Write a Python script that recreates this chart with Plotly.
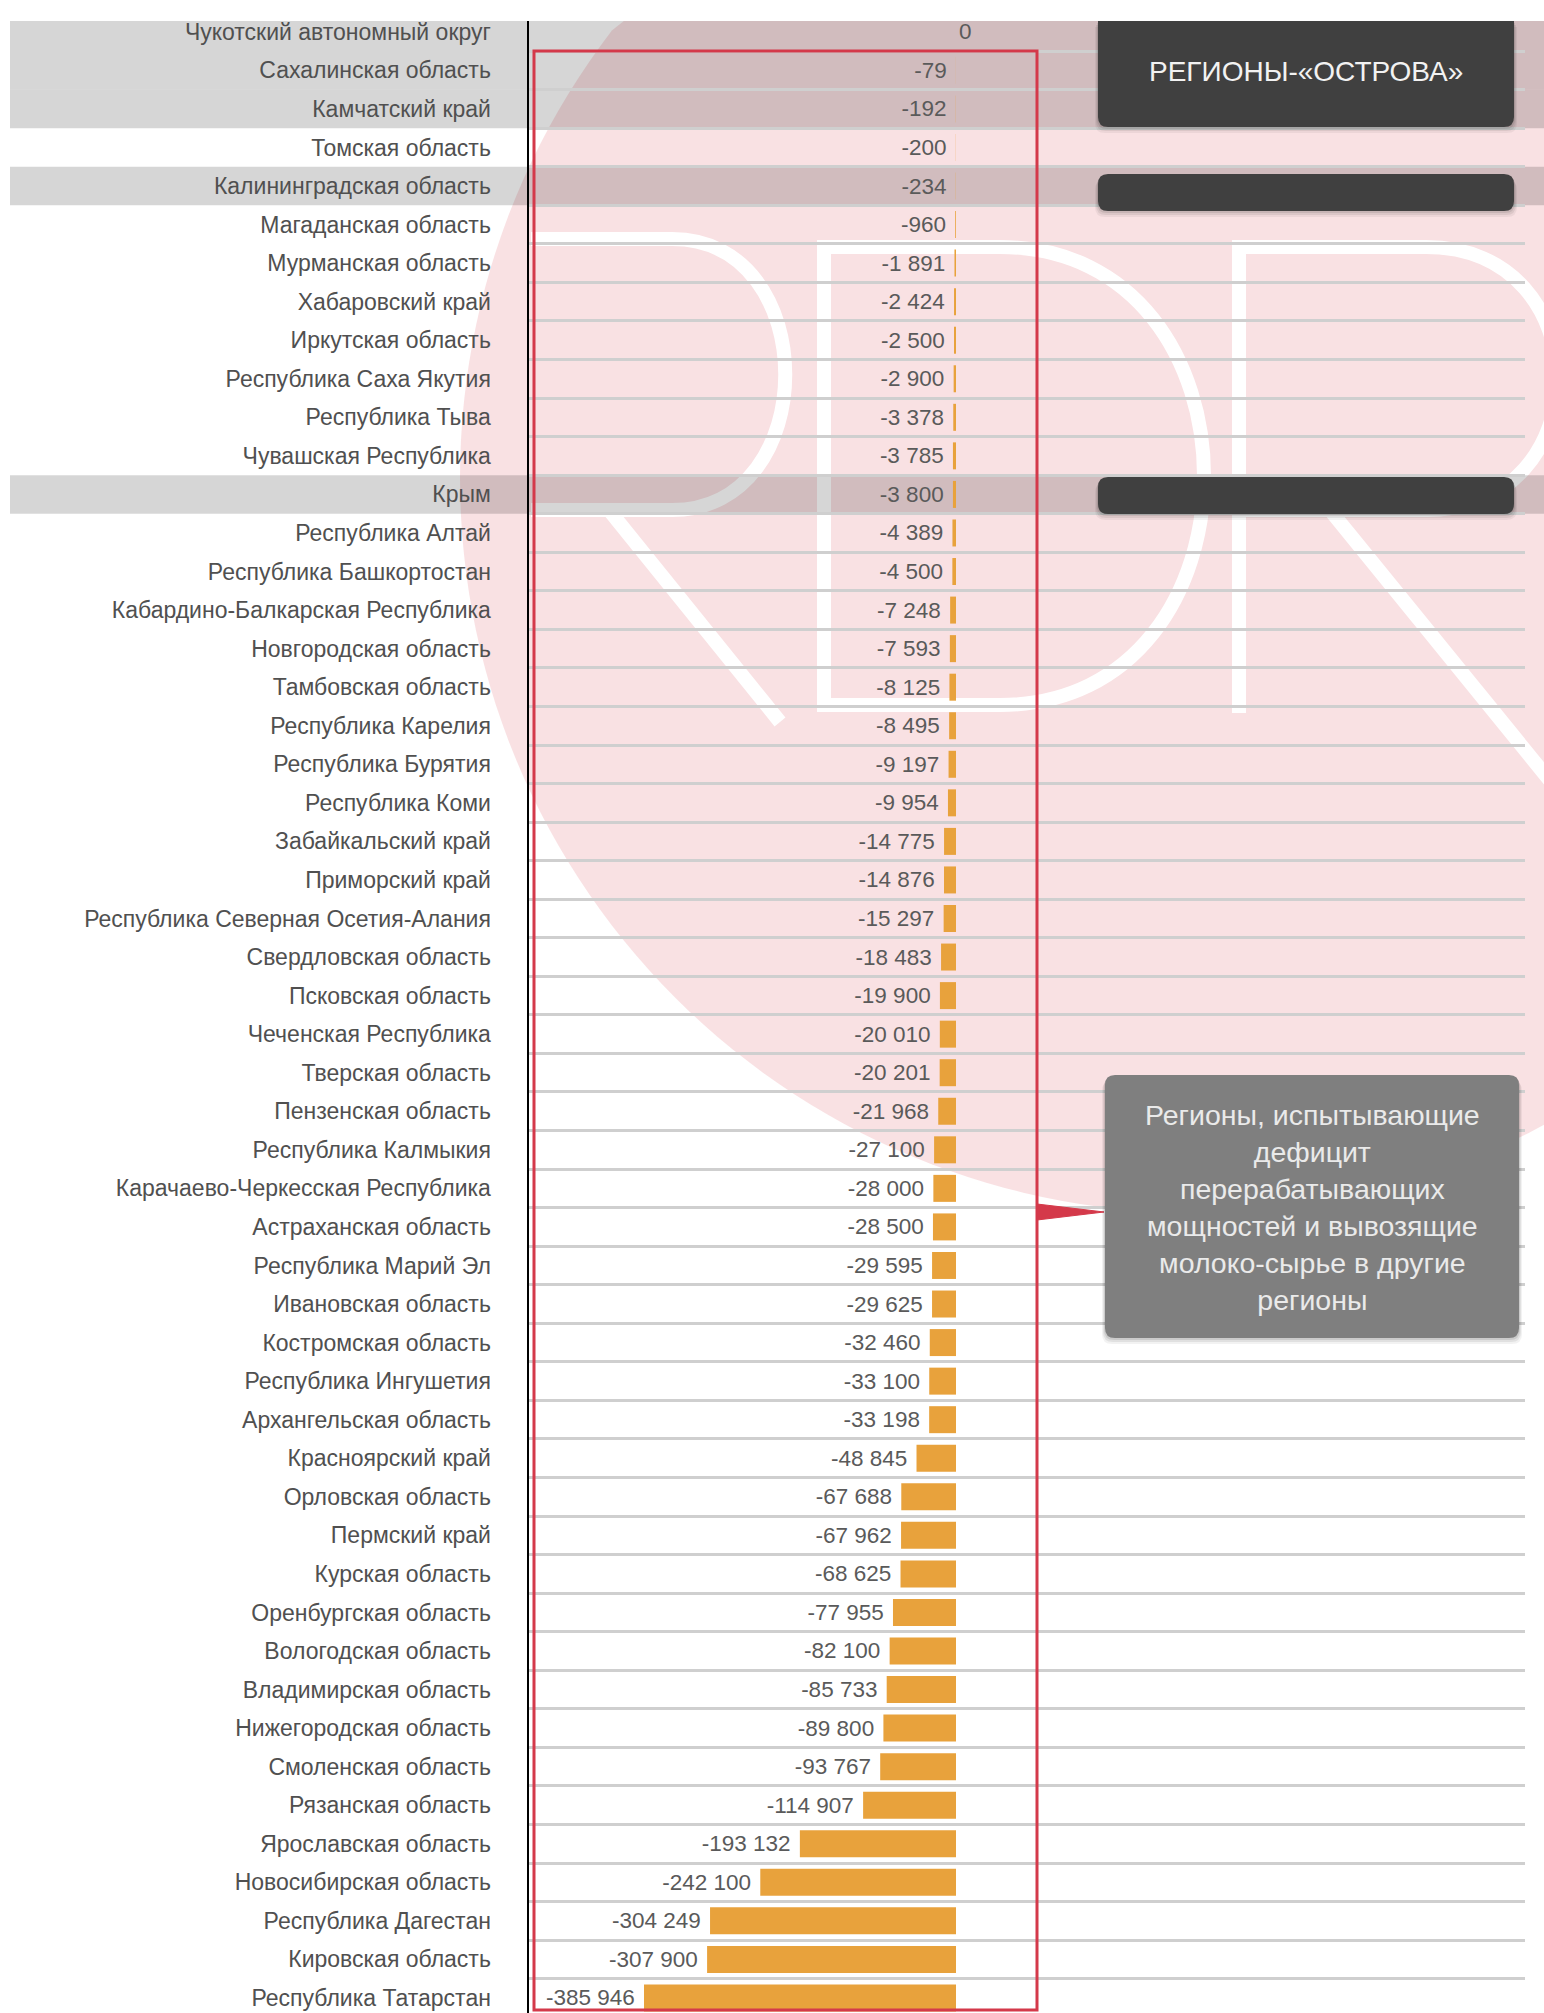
import math
import plotly.graph_objects as go

# ---------------- data ----------------
regions = [
    "Чукотский автономный округ", "Сахалинская область", "Камчатский край", "Томская область",
    "Калининградская область", "Магаданская область", "Мурманская область", "Хабаровский край",
    "Иркутская область", "Республика Саха Якутия", "Республика Тыва", "Чувашская Республика",
    "Крым", "Республика Алтай", "Республика Башкортостан", "Кабардино-Балкарская Республика",
    "Новгородская область", "Тамбовская область", "Республика Карелия", "Республика Бурятия",
    "Республика Коми", "Забайкальский край", "Приморский край", "Республика Северная Осетия-Алания",
    "Свердловская область", "Псковская область", "Чеченская Республика", "Тверская область",
    "Пензенская область", "Республика Калмыкия", "Карачаево-Черкесская Республика", "Астраханская область",
    "Республика Марий Эл", "Ивановская область", "Костромская область", "Республика Ингушетия",
    "Архангельская область", "Красноярский край", "Орловская область", "Пермский край",
    "Курская область", "Оренбургская область", "Вологодская область", "Владимирская область",
    "Нижегородская область", "Смоленская область", "Рязанская область", "Ярославская область",
    "Новосибирская область", "Республика Дагестан", "Кировская область", "Республика Татарстан",
]
values = [
    0, -79, -192, -200, -234, -960, -1891, -2424, -2500, -2900, -3378, -3785,
    -3800, -4389, -4500, -7248, -7593, -8125, -8495, -9197, -9954, -14775, -14876, -15297,
    -18483, -19900, -20010, -20201, -21968, -27100, -28000, -28500, -29595, -29625, -32460, -33100,
    -33198, -48845, -67688, -67962, -68625, -77955, -82100, -85733, -89800, -93767, -114907, -193132,
    -242100, -304249, -307900, -385946,
]
island_regions = ["Чукотский автономный округ", "Сахалинская область", "Камчатский край",
                  "Калининградская область", "Крым"]
island_title = "РЕГИОНЫ-«ОСТРОВА»"
deficit_note = ("Регионы, испытывающие<br>дефицит<br>перерабатывающих<br>"
                "мощностей и вывозящие<br>молоко-сырье в другие<br>регионы")

# ---------------- geometry helpers ----------------
W, H = 1544, 2013
L, R, T, B = 529, 1525, 21, 2013          # plot area in pixels
X_RANGE = [-528200, 703860]
Y_TOP, Y_BOT = -0.28, 51.39

def px(x):
    return (x - L) / (R - L)

def py(y):
    return (B - y) / (B - T)

def row_px(i):
    return T + (i - Y_TOP) * (B - T) / (Y_BOT - Y_TOP)

def fmt(v):
    s = f"{abs(v):,}".replace(",", " ")
    return ("-" if v < 0 else "") + s

texts = [fmt(v) + ("\u00a0" if v != 0 else "") for v in values]

FONT = "Liberation Sans, Arial, sans-serif"

fig = go.Figure()
fig.add_trace(go.Bar(
    x=values, y=regions, orientation="h",
    marker=dict(color="#E8A23C", line=dict(width=0)),
    text=texts, textposition="outside", cliponaxis=False, constraintext="none",
    textfont=dict(family=FONT, size=22.5, color="#5A5A5A"),
    hoverinfo="skip", showlegend=False,
))

shapes = []

# pink watermark circle (clipped at top of picture)
cx, cy, rr = 1195, 478, 735
pts = []
for k in range(241):
    a = 2 * math.pi * k / 240
    x = cx + rr * math.cos(a)
    y = max(T, cy + rr * math.sin(a))
    pts.append((px(x), py(y)))
path = "M " + " L ".join(f"{x:.5f},{y:.5f}" for x, y in pts) + " Z"
shapes.append(dict(type="path", path=path, xref="paper", yref="paper", layer="below",
                   fillcolor="rgba(210,45,60,0.14)", line=dict(width=0)))

# white letter strokes of the watermark
def P(x, y):
    return f"{px(x):.5f},{py(y):.5f}"

letters = [
    # first R (bowl + leg)
    f"M {P(531,239)} L {P(672,239)} C {P(823,239)} {P(823,510)} {P(672,510)} L {P(531,510)}",
    f"M {P(609,510)} L {P(780,722)}",
    # D
    f"M {P(1000,247)} L {P(824,247)} L {P(824,705)} L {P(1000,705)} C {P(1272,705)} {P(1272,247)} {P(1000,247)}",
    # second R
    f"M {P(1239,713)} L {P(1239,247)} L {P(1426,247)} C {P(1601,247)} {P(1601,510)} {P(1426,510)} L {P(1239,510)}",
    f"M {P(1330,510)} L {P(1590,830)}",
]
for d in letters:
    shapes.append(dict(type="path", path=d, xref="paper", yref="paper", layer="below",
                       line=dict(color="white", width=14)))

# gray bands for island regions
for name in island_regions:
    i = regions.index(name)
    y0 = max(T, row_px(i - 0.5))
    y1 = row_px(i + 0.5)
    shapes.append(dict(type="rect", xref="paper", yref="paper", layer="below",
                       x0=px(10), x1=px(1560), y0=py(y1), y1=py(y0),
                       fillcolor="rgba(0,0,0,0.16)", line=dict(width=0)))

# red bracket frame
shapes.append(dict(type="rect", xref="paper", yref="paper", layer="above",
                   x0=px(534), x1=px(1037), y0=py(2010), y1=py(51),
                   line=dict(color="#D4394A", width=3), fillcolor="rgba(0,0,0,0)"))
shapes.append(dict(type="path", xref="paper", yref="paper", layer="above",
                   path=f"M {P(1037,1204)} L {P(1104,1212)} L {P(1037,1220)} Z",
                   fillcolor="#D4394A", line=dict(color="#D4394A", width=1)))

def rounded_box(x0, y0, x1, y1, r, top_round=True):
    tr = r if top_round else 0
    return (f"M {P(x0+tr,y0)} L {P(x1-tr,y0)} Q {P(x1,y0)} {P(x1,y0+tr)} "
            f"L {P(x1,y1-r)} Q {P(x1,y1)} {P(x1-r,y1)} L {P(x0+r,y1)} Q {P(x0,y1)} {P(x0,y1-r)} "
            f"L {P(x0,y0+tr)} Q {P(x0,y0)} {P(x0+tr,y0)} Z")

def add_box(x0, y0, x1, y1, color, top_round=True):
    # soft shadow
    for k, op in ((6, 0.05), (4, 0.07), (2, 0.09)):
        shapes.append(dict(type="path", xref="paper", yref="paper", layer="above",
                           path=rounded_box(x0 - k / 2, max(T, y0 + k), x1 + k / 2, y1 + k, 10, top_round),
                           fillcolor=f"rgba(0,0,0,{op})", line=dict(width=0)))
    shapes.append(dict(type="path", xref="paper", yref="paper", layer="above",
                       path=rounded_box(x0, y0, x1, y1, 10, top_round),
                       fillcolor=color, line=dict(width=0)))

add_box(1098, T, 1514, 127, "#404040", top_round=False)
add_box(1098, 174, 1514, 211, "#404040")
add_box(1098, 477, 1514, 514, "#404040")
add_box(1105, 1075, 1519, 1338, "#7F7F7F")

annotations = [
    dict(text=island_title, xref="paper", yref="paper", x=px(1306), y=py(72),
         showarrow=False, xanchor="center", yanchor="middle",
         font=dict(family=FONT, size=28, color="#F2F2F2")),
    dict(text=deficit_note, xref="paper", yref="paper", x=px(1312), y=py(1207),
         showarrow=False, xanchor="center", yanchor="middle", align="center",
         font=dict(family=FONT, size=28.5, color="#EAEAEA")),
]

fig.update_layout(
    width=W, height=H,
    margin=dict(l=L, r=W - R, t=T, b=0, autoexpand=False),
    paper_bgcolor="white", plot_bgcolor="rgba(0,0,0,0)",
    bargap=0.3, showlegend=False,
    shapes=shapes, annotations=annotations,
    font=dict(family=FONT),
    xaxis=dict(range=X_RANGE, showticklabels=False, showgrid=False, zeroline=False,
               showline=False, ticks="", fixedrange=True),
    yaxis=dict(type="category", categoryorder="array", categoryarray=regions,
               range=[Y_BOT, Y_TOP], tickson="boundaries", ticks="",
               showgrid=True, gridcolor="#CFCFCF", gridwidth=3,
               showline=True, linecolor="black", linewidth=2.5,
               ticklabelstandoff=31,
               tickfont=dict(family=FONT, size=23, color="#505050"), fixedrange=True),
)

fig.write_html(
    "out.html",
    config={"displayModeBar": False, "staticPlot": True},
    post_script="document.body.style.margin='0px';document.body.style.overflow='hidden';",
)
